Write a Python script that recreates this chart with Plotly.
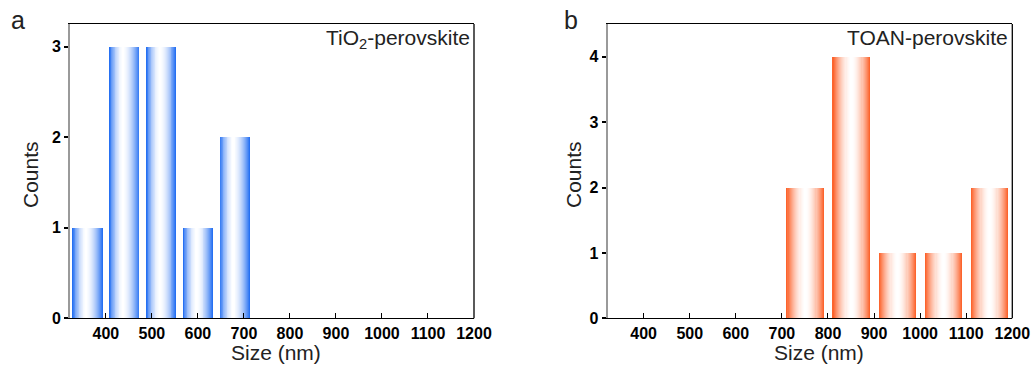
import plotly.graph_objects as go

# ---- data ----
sizes_a = [360, 440, 520, 600, 680]
counts_a = [1, 3, 3, 1, 2]
sizes_b = [750, 850, 950, 1050, 1150]
counts_b = [2, 4, 1, 1, 2]
x_ticks = [400, 500, 600, 700, 800, 900, 1000, 1100, 1200]
y_ticks_a = [0, 1, 2, 3]
y_ticks_b = [0, 1, 2, 3, 4]
label_a = "TiO<sub>2</sub>-perovskite"
label_b = "TOAN-perovskite"

W, H = 1034, 369
FONT = "Liberation Sans, Arial, sans-serif"

BLUE = (38, 112, 242)
ORANGE = (252, 100, 45)

fig = go.Figure()


def mix(c, t):
    r = [round(c[i] + (255 - c[i]) * t) for i in range(3)]
    return f"rgb({r[0]},{r[1]},{r[2]})"


def gradient_bars(xs, ys, width, color, xa, ya, peak=0.45, levels=18):
    # nested bars: outer = saturated edge colour, inner = lighter, centre white
    for j in range(levels):
        f = j / (levels - 1)
        left = -width / 2 + f * peak * width * 0.98
        right = width / 2 - f * (1 - peak) * width * 0.98
        t = 1 - (1 - f) ** 1.8
        fig.add_trace(go.Bar(
            x=xs, y=ys, width=right - left, offset=left,
            marker=dict(color=mix(color, t), line=dict(width=0)),
            xaxis=xa, yaxis=ya, showlegend=False, hoverinfo="skip"))


gradient_bars(sizes_a, counts_a, 66, BLUE, "x", "y", peak=0.45)
gradient_bars(sizes_b, counts_b, 82, ORANGE, "x2", "y2", peak=0.5)

tickfont = dict(family=FONT, size=16, color="black", weight="bold")

xd1 = [70 / W, 474 / W]
xd2 = [607.7 / W, 1012.3 / W]
yd = [1 - 318.3 / H, 1 - 24 / H]

common_x = dict(range=[322, 1200], tickvals=x_ticks, ticks="inside", ticklen=5,
                tickcolor="black", tickwidth=1, showline=True, linecolor="black",
                linewidth=1.3, mirror=True, showgrid=False, zeroline=False,
                tickfont=tickfont, fixedrange=True, automargin=False)
common_y = dict(ticks="outside", ticklen=4, tickcolor="black", tickwidth=1.5,
                showline=True, linecolor="#9a9a9a", linewidth=2, mirror=False,
                showgrid=False, zeroline=False, tickfont=tickfont, fixedrange=True,
                domain=yd, automargin=False)

fig.update_layout(
    template="none",
    width=W, height=H, barmode="overlay", bargap=0,
    margin=dict(l=0, r=0, t=0, b=0, pad=0, autoexpand=False),
    paper_bgcolor="white", plot_bgcolor="white",
    xaxis=dict(domain=xd1, anchor="y", **common_x),
    yaxis=dict(range=[0, 3.25], tickvals=y_ticks_a, anchor="x", **common_y),
    xaxis2=dict(domain=xd2, anchor="y2", **common_x),
    yaxis2=dict(range=[0, 4.5], tickvals=y_ticks_b, anchor="x2", **common_y),
)

# right spines (black)
for xr, yr in (("x domain", "y domain"), ("x2 domain", "y2 domain")):
    fig.add_shape(type="line", xref=xr, yref=yr, x0=1, x1=1, y0=0, y1=1,
                  line=dict(color="black", width=1.3))

ann = []
# inset labels
ann.append(dict(text=label_a, xref="x domain", yref="y domain", x=0.995, y=1.0,
                xanchor="right", yanchor="top", showarrow=False,
                font=dict(family=FONT, size=21, color="#222")))
ann.append(dict(text=label_b, xref="x2 domain", yref="y2 domain", x=0.995, y=1.0,
                xanchor="right", yanchor="top", showarrow=False,
                font=dict(family=FONT, size=21, color="#222")))
# axis titles
for xc, yc, txt, ang in ((30, 175, "Counts", -90), (573, 175, "Counts", -90),
                         (276, 352, "Size (nm)", 0), (819, 352, "Size (nm)", 0)):
    ann.append(dict(text=txt, xref="paper", yref="paper", x=xc / W, y=1 - yc / H,
                    xanchor="center", yanchor="middle", textangle=ang, showarrow=False,
                    borderpad=0, font=dict(family=FONT, size=21, color="#222")))
# panel letters
for xc, yc, txt in ((18, 20, "a"), (571, 20, "b")):
    ann.append(dict(text=txt, xref="paper", yref="paper", x=xc / W, y=1 - yc / H,
                    xanchor="center", yanchor="middle", showarrow=False,
                    font=dict(family=FONT, size=25, color="#222")))
fig.update_layout(annotations=ann)

fig.write_html("out.html")
